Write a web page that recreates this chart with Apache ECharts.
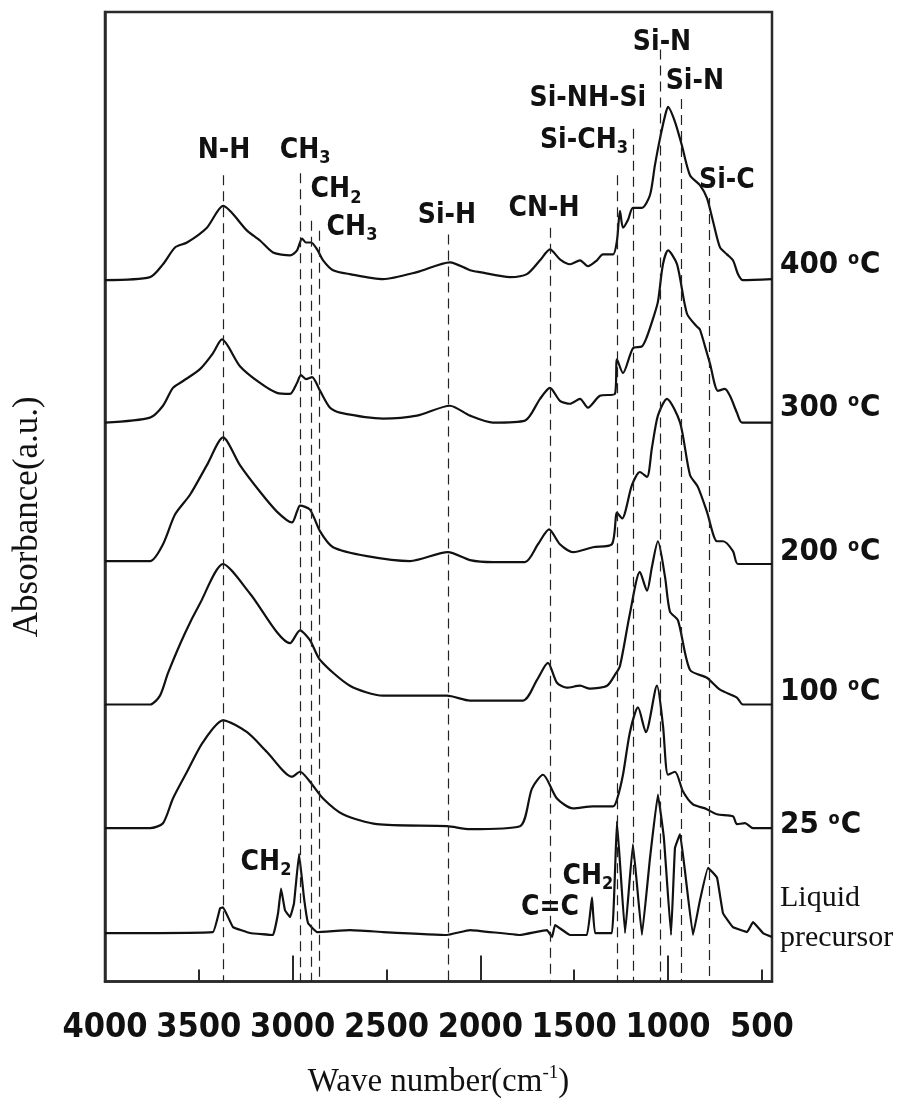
<!DOCTYPE html>
<html><head><meta charset="utf-8">
<script src="https://cdn.jsdelivr.net/npm/echarts@6/dist/echarts.min.js"></script>
<style>html,body{margin:0;padding:0;background:#fff}#c{width:915px;height:1104px}</style>
</head><body><div id="c"></div>
<script>
// ---- data (wavenumber cm-1, absorbance a.u. relative to each trace's baseline) ----
const seriesNames = ['400 °C', '300 °C', '200 °C', '100 °C', '25 °C', 'Liquid precursor'];
const baselineOffsets = [710, 565, 422, 280, 155, 45];

const t400 = [[4000,-1],[3760,2],[3691,15],[3627,32],[3563,37],[3457,52],[3371,74],[3243,49],[3174,39],[3105,27],[3014,24],[2977,29],[2950,41],[2929,37],[2902,37],[2870,30],[2838,19],[2785,9],[2695,5],[2519,0],[2338,7],[2162,17],[2055,9],[2002,7],[1842,2],[1752,5],[1682,19],[1629,30],[1576,20],[1522,15],[1469,19],[1427,13],[1379,19],[1347,25],[1293,25],[1272,39],[1256,69],[1240,52],[1213,60],[1187,72],[1139,72],[1096,85],[1070,115],[1043,142],[1016,165],[1000,174],[963,159],[926,135],[883,105],[830,95],[793,82],[761,59],[723,32],[686,25],[654,19],[627,5],[601,-1],[446,0]];
const t300 = [[4000,0],[3760,5],[3691,17],[3638,35],[3584,42],[3494,54],[3425,70],[3377,84],[3281,57],[3174,40],[3084,30],[3014,29],[2977,40],[2956,48],[2929,44],[2897,46],[2854,32],[2801,15],[2748,10],[2519,4],[2338,7],[2162,17],[2055,7],[1933,0],[1762,2],[1682,24],[1629,35],[1576,22],[1522,19],[1469,24],[1427,15],[1363,27],[1283,29],[1272,64],[1240,50],[1187,75],[1139,77],[1112,87],[1080,105],[1054,122],[1027,160],[1000,174],[952,160],[899,110],[846,97],[830,94],[803,77],[777,60],[734,32],[697,34],[670,27],[633,10],[606,0],[446,0]];
const t200 = [[4000,3],[3760,3],[3691,20],[3627,50],[3547,70],[3457,100],[3371,128],[3281,100],[3174,73],[3084,53],[3004,42],[2977,53],[2961,59],[2908,55],[2854,33],[2785,17],[2604,8],[2375,3],[2173,12],[2055,4],[1933,2],[1762,2],[1693,20],[1634,35],[1576,20],[1506,12],[1400,17],[1299,20],[1272,52],[1245,46],[1192,80],[1150,93],[1112,88],[1086,117],[1054,150],[1006,167],[936,143],[883,90],[841,78],[793,53],[739,23],[707,23],[654,13],[627,0],[446,0]];
const t100 = [[4000,0],[3760,0],[3707,9],[3664,32],[3574,72],[3494,102],[3371,142],[3227,112],[3014,62],[2961,75],[2908,65],[2854,45],[2695,19],[2519,9],[2178,9],[2055,4],[1773,4],[1698,25],[1640,42],[1592,22],[1539,17],[1469,19],[1416,16],[1325,19],[1283,30],[1256,39],[1203,92],[1150,134],[1112,115],[1086,139],[1054,165],[1016,129],[990,94],[947,85],[883,35],[793,27],[723,15],[633,7],[601,0],[446,0]];
const t25 = [[4000,0],[3760,0],[3691,5],[3638,30],[3563,57],[3478,87],[3371,109],[3243,97],[3137,77],[3004,52],[2961,57],[2908,47],[2838,30],[2732,14],[2551,4],[2178,2],[2055,-1],[1789,2],[1725,40],[1666,54],[1592,30],[1506,20],[1400,22],[1293,22],[1272,29],[1240,54],[1203,97],[1160,122],[1118,97],[1059,144],[1027,104],[1000,54],[963,57],[920,37],[867,24],[803,20],[739,14],[654,12],[633,4],[590,5],[547,0],[446,0]];
const tLiquid = [[4000,4],[3425,5],[3387,29],[3371,30],[3318,10],[3227,4],[3105,2],[3078,24],[3062,49],[3041,27],[3014,20],[2993,34],[2966,84],[2940,40],[2918,14],[2870,5],[2695,7],[2519,5],[2178,2],[2055,7],[1789,2],[1645,7],[1618,0],[1602,12],[1522,2],[1432,2],[1405,40],[1389,4],[1299,4],[1272,117],[1229,4],[1187,94],[1139,2],[1096,80],[1054,144],[1022,100],[984,2],[963,90],[936,104],[910,67],[867,2],[830,37],[787,70],[739,60],[707,24],[654,10],[579,5],[547,15],[494,4],[446,0]];
const traces = [t400, t300, t200, t100, t25, tLiquid];

// band assignment lines
const bandWave = [3370, 2960, 2900, 2860, 2170, 1630, 1270, 1185, 1040, 930, 780];
const bandTop  = [815, 817, 769, 759, 755, 762, 815, 862, 942, 892, 792];

// band labels
const labelText = ['{n|N-H}', '{n|CH}{s|3}', '{n|CH}{s|2}', '{n|CH}{s|3}', '{n|Si-H}', '{n|CN-H}', '{n|Si-CH}{s|3}', '{n|Si-NH-Si}', '{n|Si-N}', '{n|Si-N}', '{n|Si-C}', '{n|CH}{s|2}', '{n|CH}{s|2}', '{n|C=C}'];
const labelWave = [3366, 2934, 2769, 2684, 2178, 1661, 1448, 1427, 1032, 857, 686, 3142, 1427, 1629];
const labelHeight = [840, 840, 800, 762, 774, 781, 850, 892, 949, 910, 809, 120, 106, 75];

// right-hand trace names
const nameText = ['{t|400 }{o|o}{t|C}', '{t|300 }{o|o}{t|C}', '{t|200 }{o|o}{t|C}', '{t|100 }{o|o}{t|C}', '{t|25 }{o|o}{t|C}', '{l|Liquid}\n{l|precursor}'];
const nameHeight = [724, 580, 434, 293, 158, 64];

const xTicks = [500, 1000, 1500, 2000, 2500, 3000, 3500, 4000];
const X_MIN = 446, X_MAX = 4000;

// ---- chart ----
const cond = "'Liberation Sans Narrow', 'Arial Narrow', 'Noto Sans Condensed', 'DejaVu Sans Condensed', 'Liberation Sans', sans-serif";
const serif = "'Liberation Serif', 'Times New Roman', serif";
const ink = '#111';

const series = traces.map((t, i) => ({
  name: seriesNames[i], type: 'line', showSymbol: false, silent: true,
  smooth: i === 5 ? 0.08 : 0.25,
  lineStyle: {color: ink, width: 2.2},
  data: t.map(p => [p[0], p[1] + baselineOffsets[i]])
}));

series.push({
  type: 'line', data: [], silent: true,
  markLine: {
    symbol: 'none', silent: true, label: {show: false},
    lineStyle: {color: '#222', width: 1.2, type: [10, 6]},
    data: bandWave.map((w, i) => [{coord: [w, bandTop[i]]}, {coord: [w, 0]}])
  }
});

const noBorder = {textBorderWidth: 0, textBorderColor: 'transparent', textShadowBlur: 0};

series.push({
  type: 'scatter', symbolSize: 0, silent: true, clip: false,
  itemStyle: {color: ink, opacity: 1},
  data: labelWave.map((w, i) => ({value: [w, labelHeight[i]], label: {formatter: labelText[i]}})),
  label: Object.assign({
    show: true, position: 'inside', color: ink,
    rich: {
      n: Object.assign({fontSize: 28, fontWeight: 'bold', fontFamily: cond, color: ink, lineHeight: 34}, noBorder),
      s: Object.assign({fontSize: 18, fontWeight: 'bold', fontFamily: cond, color: ink, lineHeight: 16, verticalAlign: 'bottom'}, noBorder)
    }
  }, noBorder)
});

series.push({
  type: 'scatter', symbolSize: 0, silent: true, clip: false,
  itemStyle: {color: ink, opacity: 1},
  data: nameHeight.map((h, i) => ({value: [X_MIN, h], label: {formatter: nameText[i]}})),
  label: Object.assign({
    show: true, position: 'right', distance: 8, align: 'left', color: ink,
    rich: {
      t: Object.assign({fontSize: 31, fontWeight: 'bold', fontFamily: cond, color: ink, lineHeight: 38}, noBorder),
      o: Object.assign({fontSize: 18, fontWeight: 'bold', fontFamily: cond, color: ink, lineHeight: 38, verticalAlign: 'top', padding: [4, 1, 0, 0]}, noBorder),
      l: Object.assign({fontSize: 30, fontFamily: serif, color: ink, lineHeight: 40}, noBorder)
    }
  }, noBorder)
});

const chart = echarts.init(document.getElementById('c'), null, {renderer: 'canvas'});
chart.setOption({
  animation: false,
  backgroundColor: '#fff',
  grid: {left: 105, right: 143, top: 12, bottom: 112, show: true, borderColor: '#2a2a2a', borderWidth: 2.5, backgroundColor: 'transparent'},
  xAxis: [{
    type: 'value', min: X_MIN, max: X_MAX, inverse: true, splitNumber: 7,
    axisLine: {show: true, lineStyle: {color: '#2a2a2a', width: 2.5}},
    axisTick: {show: true, inside: true, length: 12, lineStyle: {color: '#2a2a2a', width: 2}},
    splitLine: {show: false},
    axisLabel: {
      show: true, margin: 30, color: ink, fontSize: 34, fontWeight: 'bold', fontFamily: cond,
      formatter: v => xTicks.includes(v) ? String(v) : ''
    },
    name: '{a|Wave number(cm}{b|-1}{a|)}', nameLocation: 'middle', nameGap: 82,
    nameTextStyle: {rich: {
      a: {fontSize: 33, fontFamily: serif, color: ink, lineHeight: 38},
      b: {fontSize: 19, fontFamily: serif, color: ink, lineHeight: 38, verticalAlign: 'top'}
    }}
  }, {
    type: 'value', min: X_MIN, max: X_MAX, inverse: true, splitNumber: 4, position: 'bottom',
    axisLine: {show: false}, axisLabel: {show: false}, splitLine: {show: false},
    axisTick: {show: true, inside: true, length: 26, lineStyle: {color: '#2a2a2a', width: 2}}
  }],
  yAxis: {
    type: 'value', min: 0, max: 980,
    axisLine: {show: true, lineStyle: {color: '#2a2a2a', width: 2.5}},
    axisTick: {show: false}, axisLabel: {show: false}, splitLine: {show: false},
    name: 'Absorbance(a.u.)', nameLocation: 'middle', nameGap: 60,
    nameTextStyle: {fontSize: 35, fontFamily: serif, color: ink, padding: [0, 40, 0, 0]}
  },
  series
});
</script></body></html>
